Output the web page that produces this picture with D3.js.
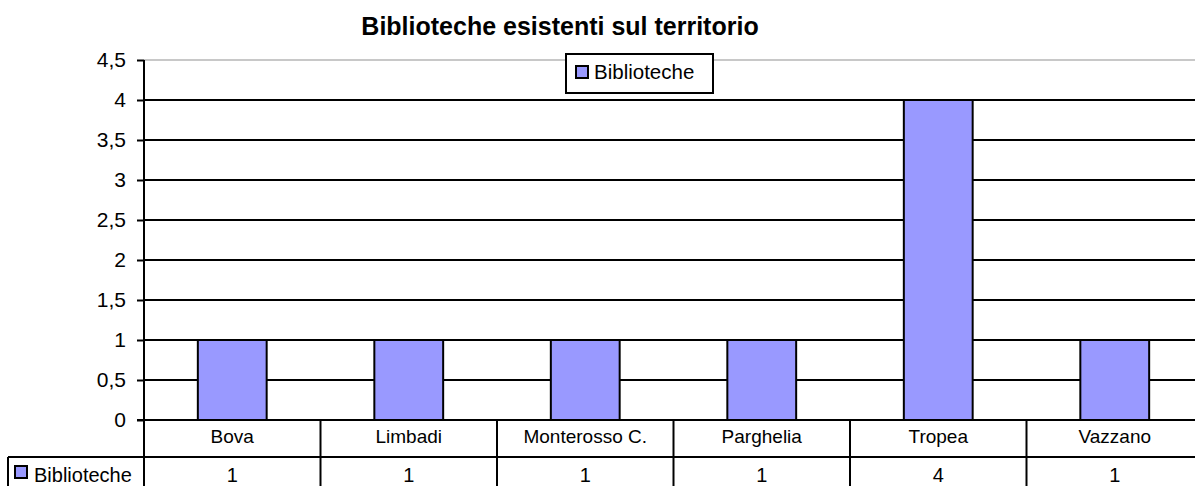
<!DOCTYPE html>
<html>
<head>
<meta charset="utf-8">
<script src="https://cdn.jsdelivr.net/npm/d3@7"></script>
<style>
  body { margin: 0; background: #fff; }
  svg { display: block; font-family: "Liberation Sans", Arial, sans-serif; }
</style>
</head>
<body>
<div id="chart"></div>
<script>
// data
const categories = ["Bova", "Limbadi", "Monterosso C.", "Parghelia", "Tropea", "Vazzano"]
const biblioteche = [1, 1, 1, 1, 4, 1]
const yTicks = [0, 0.5, 1, 1.5, 2, 2.5, 3, 3.5, 4, 4.5]
const seriesName = "Biblioteche"

const W = 1195, H = 486
const plot = {left: 144, right: 1203, top: 60, bottom: 420}
const rowH = 37

const svg = d3.select("#chart")
  .append("svg")
    .attr("width", W)
    .attr("height", H)

const x = d3.scaleBand()
  .domain(categories)
  .range([plot.left, plot.right])
  .padding(0)

const y = d3.scaleLinear()
  .domain([0, 4.5])
  .range([plot.bottom, plot.top])

const fmt = d => String(d).replace(".", ",")

// title
svg.append("text")
  .attr("x", 560)
  .attr("y", 35)
  .attr("text-anchor", "middle")
  .attr("font-weight", "bold")
  .attr("font-size", 25)
  .text("Biblioteche esistenti sul territorio")

// gridlines
svg.append("g")
  .selectAll("line")
  .data(yTicks.filter(d => d > 0))
  .join("line")
    .attr("x1", plot.left)
    .attr("x2", plot.right)
    .attr("y1", d => y(d))
    .attr("y2", d => y(d))
    .attr("stroke", d => d === 4.5 ? "#c8c8c8" : "#000")
    .attr("stroke-width", 2)

// y axis
const yAxis = d3.axisLeft(y)
  .tickValues(yTicks)
  .tickSize(7)
  .tickPadding(11)
  .tickFormat(fmt)

const gy = svg.append("g")
  .attr("transform", `translate(${plot.left},0)`)
  .call(yAxis)
gy.select(".domain").remove()
gy.selectAll("line").attr("stroke", "#000").attr("stroke-width", 2)
gy.selectAll("text").attr("font-size", 21).attr("fill", "#000")
  .attr("font-family", "Liberation Sans, Arial, sans-serif")

// bars
const barW = x.bandwidth() * 0.39
svg.append("g")
  .selectAll("rect")
  .data(biblioteche)
  .join("rect")
    .attr("x", (d, i) => x(categories[i]) + (x.bandwidth() - barW) / 2)
    .attr("y", d => y(d))
    .attr("width", barW)
    .attr("height", d => y(0) - y(d))
    .attr("fill", "#9999ff")
    .attr("stroke", "#000")
    .attr("stroke-width", 2)

// axis line
svg.append("line")
  .attr("x1", plot.left).attr("x2", plot.left)
  .attr("y1", plot.top).attr("y2", H)
  .attr("stroke", "#000").attr("stroke-width", 2)

// data table
const table = svg.append("g")
table.append("line")
  .attr("x1", plot.left - 7).attr("x2", plot.right)
  .attr("y1", plot.bottom).attr("y2", plot.bottom)
  .attr("stroke", "#000").attr("stroke-width", 2)
table.append("line")
  .attr("x1", 8).attr("x2", plot.right)
  .attr("y1", plot.bottom + rowH).attr("y2", plot.bottom + rowH)
  .attr("stroke", "#000").attr("stroke-width", 2)
table.append("line")
  .attr("x1", 8).attr("x2", 8)
  .attr("y1", plot.bottom + rowH).attr("y2", H)
  .attr("stroke", "#000").attr("stroke-width", 2)

table.selectAll(".div")
  .data(categories.slice(1))
  .join("line")
    .attr("x1", d => x(d)).attr("x2", d => x(d))
    .attr("y1", plot.bottom).attr("y2", H)
    .attr("stroke", "#000").attr("stroke-width", 2)

table.selectAll(".cat")
  .data(categories)
  .join("text")
    .attr("x", d => x(d) + x.bandwidth() / 2)
    .attr("y", plot.bottom + 23)
    .attr("text-anchor", "middle")
    .attr("font-size", 19)
    .text(d => d)

table.selectAll(".val")
  .data(biblioteche)
  .join("text")
    .attr("x", (d, i) => x(categories[i]) + x.bandwidth() / 2)
    .attr("y", plot.bottom + 62)
    .attr("text-anchor", "middle")
    .attr("font-size", 20)
    .text(d => fmt(d))

table.append("rect")
  .attr("x", 15).attr("y", plot.bottom + rowH + 9)
  .attr("width", 12).attr("height", 12)
  .attr("fill", "#9999ff").attr("stroke", "#000").attr("stroke-width", 2)
table.append("text")
  .attr("x", 34).attr("y", plot.bottom + 62)
  .attr("font-size", 20)
  .text(seriesName)

// legend
const legend = svg.append("g")
legend.append("rect")
  .attr("x", 566).attr("y", 54)
  .attr("width", 147).attr("height", 39)
  .attr("fill", "#fff").attr("stroke", "#000").attr("stroke-width", 2)
legend.append("rect")
  .attr("x", 576).attr("y", 66)
  .attr("width", 12).attr("height", 12)
  .attr("fill", "#9999ff").attr("stroke", "#000").attr("stroke-width", 2)
legend.append("text")
  .attr("x", 594).attr("y", 79)
  .attr("font-size", 20.5)
  .text(seriesName)
</script>
</body>
</html>
